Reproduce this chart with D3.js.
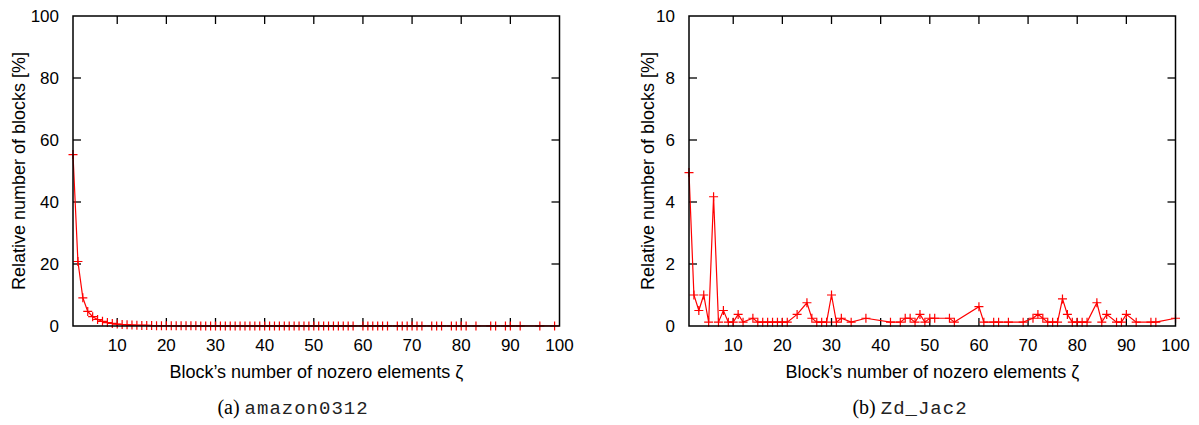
<!DOCTYPE html>
<html>
<head>
<meta charset="utf-8">
<script src="https://cdn.jsdelivr.net/npm/d3@7"></script>
<style>
  body { margin: 0; background: #fff; }
  svg { display: block; }
  text { font-family: "Liberation Sans", Arial, sans-serif; fill: #000; }
</style>
</head>
<body>
<div id="chart"></div>
<script>
// (a) amazon0312
const amazonX = [1,2,3,4,5,6,7,8,9,10,11,12,13,14,15,16,17,18,19,20,
  21,22,23,24,25,26,27,28,29,30,31,32,33,34,35,36,37,38,39,40,
  41,42,43,44,45,46,47,48,49,50,51,52,53,54,55,56,57,58,
  60,61,62,63,64,65,67,68,69,70,71,72,74,75,76,78,79,80,81,83,86,87,89,90,92,96,99]
const amazonY = [55.3,20.8,9.1,4.7,3.0,2.1,1.5,1.1,0.82,0.62,0.48,0.38,0.3,0.25,0.2,0.17,0.14,0.12,0.1,0.09,
  0.08,0.07,0.06,0.06,0.05,0.05,0.04,0.04,0.04,0.03,0.03,0.03,0.03,0.03,0.02,0.02,0.02,0.02,0.02,0.02,
  0.02,0.02,0.02,0.01,0.01,0.01,0.01,0.01,0.01,0.01,0.01,0.01,0.01,0.01,0.01,0.01,0.01,0.01,
  0.01,0.01,0.01,0.01,0.01,0.01,0.01,0.01,0.01,0.01,0.01,0.01,0.01,0.01,0.01,0.01,0.01,0.01,0.01,0.01,0.01,0.01,0.01,0.01,0.01,0.01,0.01]

// (b) Zd_Jac2
const jacX = [1,2,3,4,5,6,7,8,9,10,11,12,14,15,16,17,18,19,20,21,23,25,26,27,28,29,30,31,32,34,37,42,
  44,45,46,47,48,49,50,51,54,55,60,61,63,64,66,69,71,72,73,74,75,76,77,78,79,80,81,82,84,85,86,88,89,90,92,95,96,100]
const jacY = [4.95,1.0,0.5,1.0,0.125,4.17,0.125,0.5,0.125,0.125,0.375,0.125,0.25,0.125,0.125,0.125,0.125,0.125,0.125,0.125,0.375,0.75,0.25,0.125,0.125,0.125,1.0,0.125,0.25,0.125,0.25,0.125,
  0.125,0.25,0.25,0.125,0.375,0.125,0.25,0.25,0.25,0.125,0.625,0.125,0.125,0.125,0.125,0.125,0.25,0.375,0.25,0.125,0.125,0.125,0.875,0.375,0.125,0.125,0.125,0.125,0.75,0.125,0.375,0.125,0.125,0.375,0.125,0.125,0.125,0.25]

const xTicks = [10,20,30,40,50,60,70,80,90,100]
const amazonYTicks = [0,20,40,60,80,100]
const jacYTicks = [0,2,4,6,8,10]

const xTitle = "Block\u2019s number of nozero elements \u03b6"
const yTitle = "Relative number of blocks [%]"

const width = 1199
const height = 425

const svg = d3.select("#chart")
  .append("svg")
  .attr("width", width)
  .attr("height", height)

drawPanel({
  left: 73, right: 559.5, top: 16, bottom: 326,
  xs: amazonX, ys: amazonY, yMax: 100, yTicks: amazonYTicks,
  yTitleX: 19, caption: "(a) ", code: "amazon0312", captionX: 293
})

drawPanel({
  left: 689, right: 1175.5, top: 16, bottom: 326,
  xs: jacX, ys: jacY, yMax: 10, yTicks: jacYTicks,
  yTitleX: 648, caption: "(b) ", code: "Zd_Jac2", captionX: 910
})

function drawPanel(p){
  const x = d3.scaleLinear().domain([1, 100]).range([p.left, p.right])
  const y = d3.scaleLinear().domain([0, p.yMax]).range([p.bottom, p.top])
  const tick = 8

  const g = svg.append("g")

  // ticks, mirrored on all four sides, pointing in
  const xt = xTicks.filter(d => d < 100)
  g.selectAll(".xtb").data(xt).join("line")
    .attr("x1", d => x(d)).attr("x2", d => x(d))
    .attr("y1", p.bottom).attr("y2", p.bottom - tick)
    .attr("stroke", "#000").attr("stroke-width", 1.3)
  g.selectAll(".xtt").data(xt).join("line")
    .attr("x1", d => x(d)).attr("x2", d => x(d))
    .attr("y1", p.top).attr("y2", p.top + tick)
    .attr("stroke", "#000").attr("stroke-width", 1.3)
  const yt = p.yTicks.filter(d => d > 0 && d < p.yMax)
  g.selectAll(".ytl").data(yt).join("line")
    .attr("x1", p.left).attr("x2", p.left + tick)
    .attr("y1", d => y(d)).attr("y2", d => y(d))
    .attr("stroke", "#000").attr("stroke-width", 1.3)
  g.selectAll(".ytr").data(yt).join("line")
    .attr("x1", p.right).attr("x2", p.right - tick)
    .attr("y1", d => y(d)).attr("y2", d => y(d))
    .attr("stroke", "#000").attr("stroke-width", 1.3)

  // tick labels
  g.selectAll(".xl").data(xTicks).join("text")
    .attr("x", d => x(d))
    .attr("y", p.bottom + 25)
    .attr("text-anchor", "middle")
    .attr("font-size", 17)
    .text(d => d)
  g.selectAll(".yl").data(p.yTicks).join("text")
    .attr("x", p.left - 14)
    .attr("y", d => y(d) + 6)
    .attr("text-anchor", "end")
    .attr("font-size", 17)
    .text(d => d)

  // titles
  g.append("text")
    .attr("x", (p.left + p.right) / 2)
    .attr("y", p.bottom + 52)
    .attr("text-anchor", "middle")
    .attr("font-size", 18)
    .text(xTitle)
  g.append("text")
    .attr("transform", `translate(${p.yTitleX},${(p.top + p.bottom) / 2}) rotate(-90)`)
    .attr("text-anchor", "middle")
    .attr("dy", "0.35em")
    .attr("font-size", 18)
    .text(yTitle)

  // caption
  const cap = g.append("text")
    .attr("x", p.captionX)
    .attr("y", 414)
    .attr("text-anchor", "middle")
    .attr("font-size", 20)
  cap.append("tspan")
    .style("font-family", "'Liberation Serif', 'Times New Roman', serif")
    .text(p.caption)
  cap.append("tspan")
    .style("font-family", "'Liberation Mono', 'Courier New', monospace")
    .attr("font-size", 19)
    .attr("letter-spacing", 1)
    .attr("fill", "#222")
    .text(p.code)

  // data line
  const pts = p.xs.map((d, i) => [d, p.ys[i]])
  const line = d3.line().x(d => x(d[0])).y(d => y(d[1]))
  g.append("path")
    .datum(pts)
    .attr("d", line)
    .attr("fill", "none")
    .attr("stroke", "#ff0000")
    .attr("stroke-width", 1.2)

  const m = 4.5
  g.selectAll(".pt").data(pts).join("path")
    .attr("d", d => {
      const cx = x(d[0]), cy = y(d[1])
      return `M${cx - m},${cy}H${cx + m}M${cx},${cy - m}V${cy + m}`
    })
    .attr("stroke", "#ff0000")
    .attr("stroke-width", 1.2)

  // frame on top
  g.append("rect")
    .attr("x", p.left).attr("y", p.top)
    .attr("width", p.right - p.left).attr("height", p.bottom - p.top)
    .attr("fill", "none")
    .attr("stroke", "#000")
    .attr("stroke-width", 1.5)
}
</script>
</body>
</html>
